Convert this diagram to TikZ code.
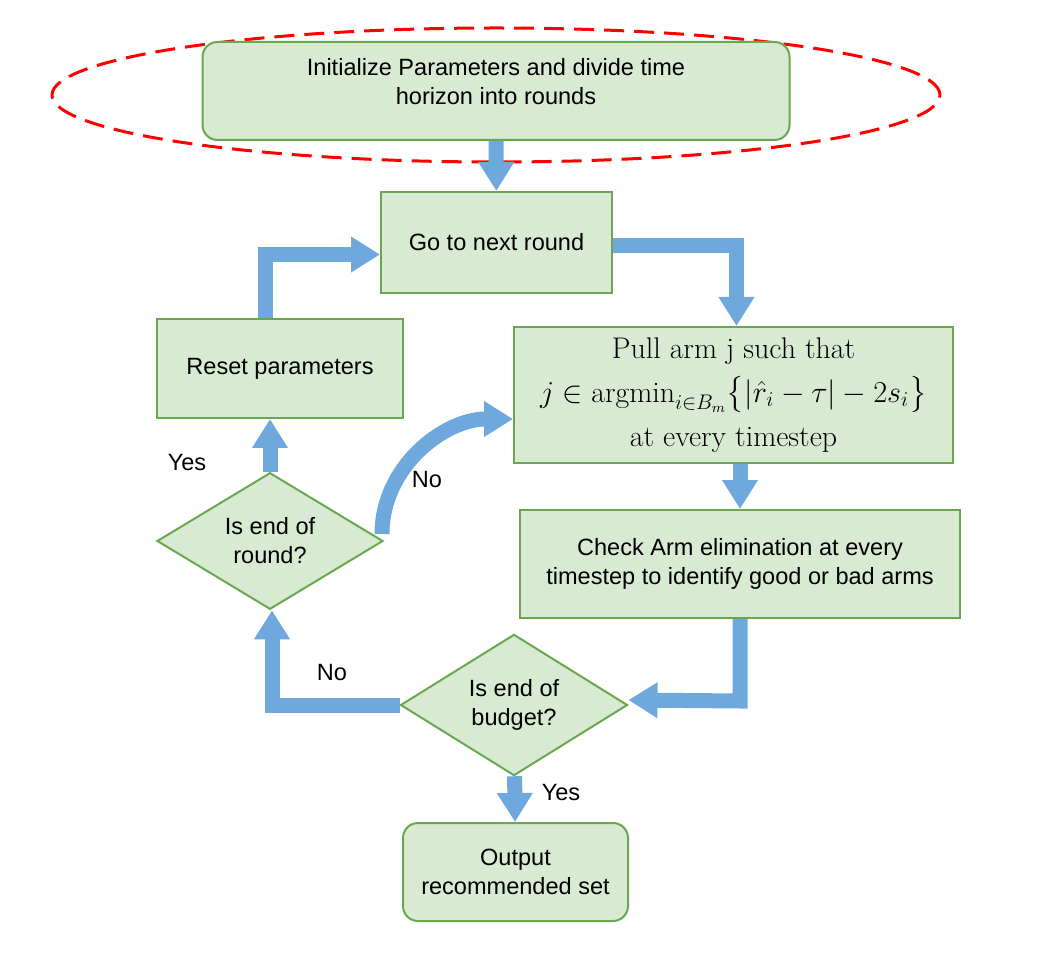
\documentclass[tikz,border=0pt]{standalone}
\usepackage{amsmath}
\usepackage{fontspec}
\usetikzlibrary{shapes.geometric,arrows.meta}
\newfontfamily\arialfont{Liberation Sans}
\definecolor{boxfill}{HTML}{D9EAD3}
\definecolor{boxline}{HTML}{6AA84F}
\definecolor{flowblue}{HTML}{6FA8DC}
\definecolor{ringred}{HTML}{FF0000}
\begin{document}
\begin{tikzpicture}[every node/.style={font=\arialfont\fontsize{13.4}{16.5}\selectfont},
  box/.style={draw=boxline,fill=boxfill,line width=0.04cm,align=center,inner sep=0pt},
  decision/.style={box,diamond},
  flow/.style={draw=flowblue,line width=0.3cm,-{Triangle[width=0.68cm,length=0.58cm]}}]
\useasboundingbox (0,0) rectangle (21.22,-19.12);
\draw[ringred,line width=0.06cm,dash pattern=on 0.4cm off 0.2cm] (9.92,-1.90) ellipse [x radius=8.88cm,y radius=1.34cm];
\node[box,rounded corners=0.3cm,minimum width=11.74cm,minimum height=1.96cm,text depth=11pt] (init) at (9.92,-1.82) {Initialize Parameters and divide time\\horizon into rounds};
\node[box,minimum width=4.62cm,minimum height=2.02cm] (go) at (9.93,-4.85) {Go to next round};
\node[box,minimum width=8.78cm,minimum height=2.72cm,font=\fontsize{17}{25}\selectfont] (pull) at (14.67,-7.90)
  {Pull arm j such that\\ $j \in \mathrm{argmin}_{i\in B_m}\big\{|\hat{r}_i-\tau| - 2s_i\big\}$\\ at every timestep};
\node[box,minimum width=8.80cm,minimum height=2.16cm] (check) at (14.80,-11.28) {Check Arm elimination at every\\timestep to identify good or bad arms};
\node[decision,minimum width=4.54cm,minimum height=2.12cm] (budget) at (10.28,-14.10) {Is end of\\budget?};
\node[box,rounded corners=0.3cm,minimum width=4.50cm,minimum height=1.96cm] (output) at (10.31,-17.44) {Output\\recommended set};
\node[decision,minimum width=4.52cm,minimum height=2.16cm] (round) at (5.40,-10.82) {Is end of\\round?};
\node[box,minimum width=4.92cm,minimum height=1.98cm] (reset) at (5.60,-7.37) {Reset parameters};

\node (yes-up) at (3.74,-9.26) {Yes};
\node (no-curve) at (8.54,-9.60) {No};
\node (no-back) at (6.64,-13.46) {No};
\node (yes-down) at (11.22,-15.86) {Yes};

\draw[flow] (init) -- (go);
\draw[flow] ([yshift=-0.06cm]go.east) -| ([xshift=0.06cm]pull.north);
\draw[flow] (check.north |- pull.south) -- (check.north);
\draw[flow] (check.south) -| ++(0,-1.64) -- ([yshift=0.1cm]budget.east);
\draw[flow] (budget) -- (output);
\draw[flow] (budget.west) -| ([xshift=0.04cm]round.south);
\draw[flow] (round.north) -- (round.north |- reset.south);
\draw[flow] ([xshift=-0.3cm]reset.north) |- ([yshift=-0.24cm]go.west);
\draw[flow] ([shift={(-0.04cm,0.14cm)}]round.east) to[out=90,in=180] ([yshift=-0.48cm]pull.west);
\end{tikzpicture}
\end{document}
